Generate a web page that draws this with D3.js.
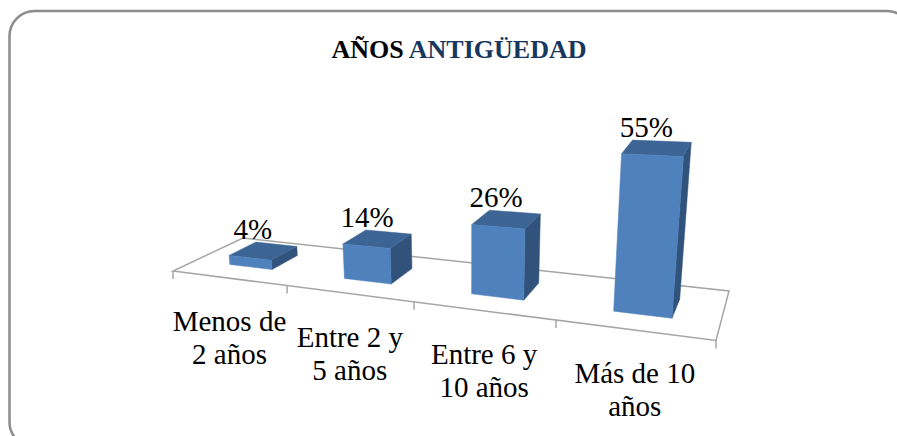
<!DOCTYPE html>
<html>
<head>
<meta charset="utf-8">
<script src="https://cdn.jsdelivr.net/npm/d3@7"></script>
<style>
  body { margin: 0; background: #fff; overflow: hidden; }
  text { font-family: "Liberation Serif", serif; fill: #000; }
</style>
</head>
<body>
<svg id="graph" width="897" height="436"></svg>
<script>
// Chart data.
const categories = ['Menos de 2 años', 'Entre 2 y 5 años', 'Entre 6 y 10 años', 'Más de 10 años'];
const labelLines = [['Menos de', '2 años'], ['Entre 2 y', '5 años'], ['Entre 6 y', '10 años'], ['Más de 10', 'años']];
const values = [4, 14, 26, 55];
const titleParts = ['AÑOS ', 'ANTIGÜEDAD'];

const svg = d3.select('#graph');

// Rounded frame, runs off the window on the right and at the bottom.
svg.append('rect')
  .attr('x', 9.5).attr('y', 11)
  .attr('width', 902).attr('height', 436)
  .attr('rx', 25).attr('ry', 25)
  .attr('fill', '#fff')
  .attr('stroke', '#8c8c8c')
  .attr('stroke-width', 2.5);

// Title.
const title = svg.append('text')
  .attr('x', 459).attr('y', 58)
  .attr('text-anchor', 'middle')
  .attr('font-size', 26)
  .attr('font-weight', 'bold');
title.append('tspan').text(titleParts[0]);
title.append('tspan').style('fill', '#17375e').text(titleParts[1]);

// Floor corners on screen: front-left, front-right, back-right, back-left.
const floor = [[173, 271], [716, 340.5], [729, 291], [243, 238]];

// Square to quad projection for the floor, u along the categories, v into the depth.
const makeProjection = ([[x0, y0], [x1, y1], [x2, y2], [x3, y3]]) => {
  const
    dx1 = x1 - x2, dx2 = x3 - x2, sx = x0 - x1 + x2 - x3,
    dy1 = y1 - y2, dy2 = y3 - y2, sy = y0 - y1 + y2 - y3,
    den = dx1 * dy2 - dx2 * dy1,
    g = (sx * dy2 - dx2 * sy) / den,
    h = (dx1 * sy - sx * dy1) / den,
    a = x1 - x0 + g * x1, b = x3 - x0 + h * x3,
    d = y1 - y0 + g * y1, e = y3 - y0 + h * y3;
  return (u, v) => {
    const w = g * u + h * v + 1;
    return [(a * u + b * v + x0) / w, (d * u + e * v + y0) / w];
  };
};
const project = makeProjection(floor);

// Scales.
const
  xScale = d3.scaleBand().domain(categories).range([0.002, 1.002]).paddingInner(0.62).paddingOuter(0.31),
  xTicks = d3.scaleLinear().domain([0, categories.length]).range([0, 1]),
  depth = d3.scaleLinear().domain([0, 1]).range([0.3, 0.7]),
  // Pixels per percentage point, nearer bars rise more.
  rise = d3.scaleLinear().domain([0, 1]).range([2.2, 3.0]),
  shrink = d3.scaleLinear().domain([0, 1]).range([1, 0.97]);

// Point above the floor, verticals lean in toward the vanishing point.
const lift = ([x, y], u, t, value) => {
  const h = rise(u) * shrink(t) * value;
  return [x + (x - 470) * 0.00035 * h, y - h];
};

const line = d3.line();

// Floor outline.
svg.append('path')
  .attr('d', line(floor) + 'Z')
  .attr('fill', 'none')
  .attr('stroke', '#a6a6a6')
  .attr('stroke-width', 1.5);

// Axis ticks on the front edge.
svg.selectAll('.tick')
  .data(d3.range(categories.length + 1))
  .join('line')
  .attr('class', 'tick')
  .attr('x1', i => project(xTicks(i), 0)[0])
  .attr('y1', i => project(xTicks(i), 0)[1])
  .attr('x2', i => project(xTicks(i), 0)[0])
  .attr('y2', i => project(xTicks(i), 0)[1] + 8)
  .attr('stroke', '#a6a6a6')
  .attr('stroke-width', 1.5);

// Bars.
const bars = svg.selectAll('.bar')
  .data(categories.map((name, i) => ({ name, value: values[i], lines: labelLines[i] })))
  .join('g')
  .attr('class', 'bar');

bars.each(function (row) {
  const
    g = d3.select(this),
    u0 = xScale(row.name),
    u1 = u0 + xScale.bandwidth(),
    v0 = depth(0),
    v1 = depth(1),
    fl = project(u0, v0), fr = project(u1, v0), br = project(u1, v1), bl = project(u0, v1),
    tfl = lift(fl, u0, 0, row.value), tfr = lift(fr, u1, 0, row.value),
    tbr = lift(br, u1, 1, row.value), tbl = lift(bl, u0, 1, row.value);

  const face = (points, color) => g.append('path')
    .attr('d', line(points) + 'Z')
    .attr('fill', color)
    .attr('stroke', color)
    .attr('stroke-width', 0.5);

  face([fr, br, tbr, tfr], '#31527b');
  face([tfl, tfr, tbr, tbl], '#3c6494');
  face([fl, fr, tfr, tfl], '#4f81bd');

  // Value label above the top face.
  g.append('text')
    .attr('x', (tfl[0] + tbr[0]) / 2 - 10)
    .attr('y', tbl[1] - 3)
    .attr('text-anchor', 'middle')
    .attr('font-size', 29)
    .text(row.value + '%');

  // Category label below the front edge.
  const [cx, cy] = project((u0 + u1) / 2, 0);
  g.selectAll('.cat')
    .data(row.lines)
    .join('text')
    .attr('class', 'cat')
    .attr('x', cx)
    .attr('y', (d, i) => cy + 53 + i * 33)
    .attr('text-anchor', 'middle')
    .attr('font-size', 29)
    .text(d => d);
});
</script>
</body>
</html>
